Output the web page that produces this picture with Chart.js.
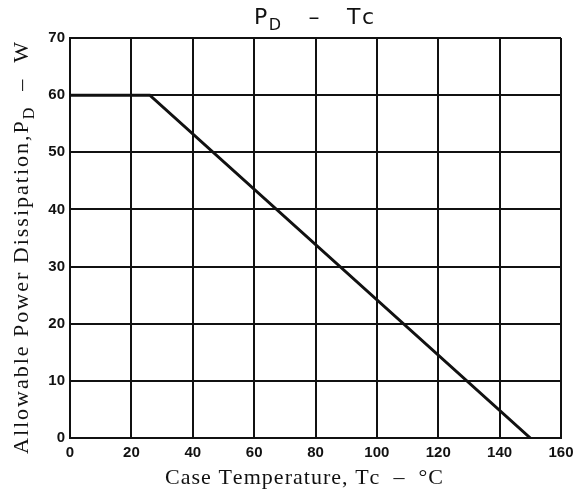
<!DOCTYPE html>
<html>
<head>
<meta charset="utf-8">
<script src="https://cdn.jsdelivr.net/npm/chart.js@4"></script>
<style>
  html, body { margin: 0; padding: 0; background: #fff; }
  #wrap { width: 586px; height: 491px; }
</style>
</head>
<body>
<div id="wrap"><canvas id="chart"></canvas></div>
<script>
// derating curve
const caseTemp = [0, 26, 150];
const powerDiss = [60, 60, 0];
const xTicks = [0, 20, 40, 60, 80, 100, 120, 140, 160];
const yTicks = [0, 10, 20, 30, 40, 50, 60, 70];

const ink = '#111';

// text with subscripts: list of [text, sub]
function drawRich(ctx, parts, size, family, weight, width) {
    const sub = Math.round(size * 0.72);
    const fontOf = s => `${weight} ${s ? sub : size}px ${family}`;
    let natural = 0, chars = 0;
    parts.forEach(p => {
        ctx.font = fontOf(p[1]);
        natural += ctx.measureText(p[0]).width;
        chars += p[0].length;
    });
    const spacing = width ? (width - natural) / chars : 0;
    const total = natural + spacing * chars;
    let x = -total / 2;
    parts.forEach(p => {
        ctx.font = fontOf(p[1]);
        const w = ctx.measureText(p[0]).width;
        let cx = x;
        for (const ch of p[0]) {
            ctx.fillText(ch, cx, p[1] ? size * 0.28 : 0);
            cx += ctx.measureText(ch).width + spacing;
        }
        x += w + spacing * p[0].length;
    });
}

const labelsPlugin = {
    id: 'labels',
    beforeDraw(chart) {
        const ctx = chart.ctx;
        ctx.save();
        ctx.fillStyle = '#fff';
        ctx.fillRect(0, 0, chart.width, chart.height);
        ctx.restore();
    },
    afterDraw(chart) {
        const ctx = chart.ctx;
        ctx.save();
        ctx.fillStyle = ink;
        ctx.textBaseline = 'alphabetic';
        ctx.textAlign = 'left';

        // title
        ctx.save();
        ctx.translate(313, 24);
        drawRich(ctx, [['P', false], ['D', true], ['   \u2013   Tc', false]], 22, '"DejaVu Sans"', 'normal', 118);
        ctx.restore();

        // x axis title
        ctx.save();
        ctx.translate(303, 484);
        drawRich(ctx, [['Case Temperature, Tc  \u2013  \u00b0C', false]], 22, '"Liberation Serif"', 'normal', 276);
        ctx.restore();

        // y axis title
        ctx.save();
        ctx.translate(28, 247);
        ctx.rotate(-Math.PI / 2);
        drawRich(ctx, [['Allowable Power Dissipation,P', false], ['D', true], ['  \u2013  W', false]], 22, '"Liberation Serif"', 'normal', 414);
        ctx.restore();

        ctx.restore();
    }
};

new Chart(document.getElementById('chart'), {
    type: 'line',
    data: {
        datasets: [{
            data: caseTemp.map((t, i) => ({ x: t, y: powerDiss[i] })),
            borderColor: ink,
            borderWidth: 3,
            pointRadius: 0,
            tension: 0,
            fill: false
        }]
    },
    options: {
        responsive: true,
        maintainAspectRatio: false,
        animation: false,
        layout: { padding: { left: 0, right: 25, top: 38, bottom: 0 } },
        plugins: {
            legend: { display: false },
            title: { display: false },
            tooltip: { enabled: false }
        },
        scales: {
            x: {
                type: 'linear',
                min: 0,
                max: 160,
                afterBuildTicks: s => { s.ticks = xTicks.map(v => ({ value: v })); },
                afterFit: s => { s.height = 53; },
                grid: { color: ink, lineWidth: 2, drawTicks: false },
                border: { color: ink, width: 2 },
                ticks: {
                    color: ink,
                    padding: 6,
                    font: { family: '"Liberation Sans"', size: 15, weight: 'bold' }
                }
            },
            y: {
                min: 0,
                max: 70,
                afterBuildTicks: s => { s.ticks = yTicks.map(v => ({ value: v })); },
                afterFit: s => { s.width = 70; },
                grid: { color: ink, lineWidth: 2, drawTicks: false },
                border: { color: ink, width: 2 },
                ticks: {
                    color: ink,
                    padding: 5,
                    font: { family: '"Liberation Sans"', size: 15, weight: 'bold' }
                }
            }
        }
    },
    plugins: [labelsPlugin]
});
</script>
</body>
</html>
